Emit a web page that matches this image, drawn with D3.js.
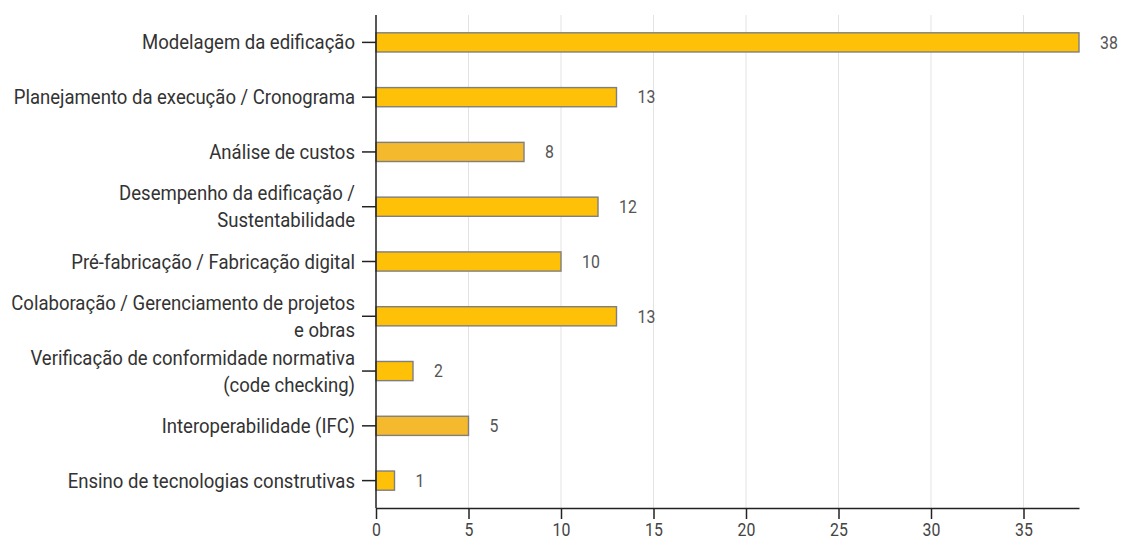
<!DOCTYPE html>
<html>
<head>
<meta charset="utf-8">
<script src="https://cdn.jsdelivr.net/npm/d3@7"></script>
<style>
  html, body { margin: 0; padding: 0; background: #fff; }
  svg { display: block; font-family: Roboto, "Noto Sans", sans-serif; }
</style>
</head>
<body>
<svg id="chart" width="1123" height="542"></svg>
<script>
// Topics (label lines) and number of works per topic
const categories = [
  ["Modelagem da edificação"],
  ["Planejamento da execução / Cronograma"],
  ["Análise de custos"],
  ["Desempenho da edificação /", "Sustentabilidade"],
  ["Pré-fabricação / Fabricação digital"],
  ["Colaboração / Gerenciamento de projetos", "e obras"],
  ["Verificação de conformidade normativa", "(code checking)"],
  ["Interoperabilidade (IFC)"],
  ["Ensino de tecnologias construtivas"]
];
const values = [38, 13, 8, 12, 10, 13, 2, 5, 1];
const barColors = ["#FFC107", "#FFC107", "#F5B92E", "#FFC107", "#FFC107", "#FFC107", "#FFC107", "#F5B92E", "#FFC107"];
const xTicks = [0, 5, 10, 15, 20, 25, 30, 35];

const margin = { top: 15, right: 44, bottom: 34, left: 376 };
const width = 1123, height = 542;
const svg = d3.select("#chart");

// narrow text rendering
const labelScale = 0.927, numScale = 0.88;

const keys = categories.map((c, i) => i);
const x = d3.scaleLinear().domain([0, 38]).range([margin.left, width - margin.right]);
const y = d3.scaleBand().domain(keys).range([margin.top, height - margin.bottom]).paddingInner(0.65).paddingOuter(0.325);

// vertical gridlines
svg.append("g")
  .selectAll("line")
  .data(xTicks.filter(t => t > 0))
  .join("line")
  .attr("x1", d => x(d)).attr("x2", d => x(d))
  .attr("y1", margin.top).attr("y2", height - margin.bottom)
  .attr("stroke", "#e3e3e3").attr("stroke-width", 1);

// bars
svg.append("g")
  .selectAll("rect")
  .data(values)
  .join("rect")
  .attr("x", x(0))
  .attr("y", (d, i) => y(i))
  .attr("width", d => x(d) - x(0))
  .attr("height", y.bandwidth())
  .attr("fill", (d, i) => barColors[i])
  .attr("stroke", "#7f7f7f")
  .attr("stroke-width", 1.4);

// value labels
svg.append("g")
  .selectAll("text")
  .data(values)
  .join("text")
  .attr("transform", (d, i) => `translate(${x(d) + 21},${y(i) + y.bandwidth() / 2}) scale(${numScale},1)`)
  .attr("dy", "0.35em")
  .attr("fill", "#555")
  .attr("font-size", 18)
  .text(d => d);

// bottom axis
const xAxis = svg.append("g")
  .attr("transform", `translate(0,${height - margin.bottom})`)
  .call(d3.axisBottom(x).tickValues(xTicks).tickSize(11).tickSizeOuter(0).tickPadding(4));
xAxis.select(".domain").attr("stroke", "#222").attr("stroke-width", 1.5);
xAxis.selectAll(".tick line").attr("stroke", "#222").attr("stroke-width", 1.5);
xAxis.selectAll("text")
  .attr("font-size", 18).attr("fill", "#444").attr("font-family", "Roboto, sans-serif")
  .attr("transform", `scale(${numScale},1)`);

// left axis
const yAxis = svg.append("g")
  .attr("transform", `translate(${margin.left},0)`)
  .call(d3.axisLeft(y).tickSize(14).tickSizeOuter(0).tickFormat(""));
yAxis.select(".domain").attr("stroke", "#222").attr("stroke-width", 1.5)
  .attr("d", `M0,${margin.top}V${height - margin.bottom}`);
yAxis.selectAll(".tick line").attr("stroke", "#222").attr("stroke-width", 1.5);

// category labels (possibly two lines)
const lineH = 27;
const labels = svg.append("g")
  .attr("text-anchor", "end")
  .attr("font-size", 20)
  .attr("fill", "#333");
categories.forEach((lines, i) => {
  const cy = y(i) + y.bandwidth() / 2;
  const t = labels.append("text")
    .attr("transform", `translate(${margin.left - 21},${cy - (lines.length - 1) * lineH / 2}) scale(${labelScale},1)`);
  lines.forEach((ln, j) => {
    t.append("tspan")
      .attr("x", 0)
      .attr("dy", j === 0 ? "0.35em" : lineH)
      .text(ln);
  });
});
</script>
</body>
</html>
